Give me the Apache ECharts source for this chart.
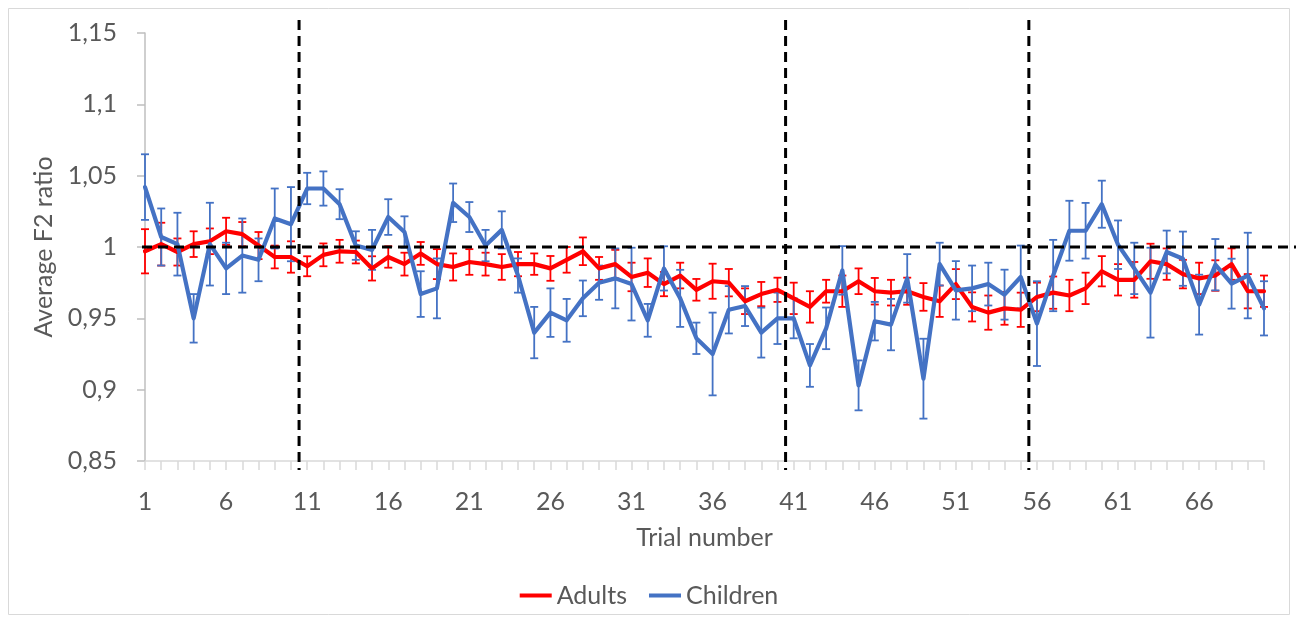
<!DOCTYPE html>
<html><head><meta charset="utf-8">
<script src="https://cdn.jsdelivr.net/npm/echarts@6/dist/echarts.min.js"></script>
<style>html,body{margin:0;padding:0;background:#fff;} #c{width:1298px;height:622px;}</style>
</head><body><div id="c"></div>
<script>
const trials = ['1','2','3','4','5','6','7','8','9','10','11','12','13','14','15','16','17','18','19','20',
'21','22','23','24','25','26','27','28','29','30','31','32','33','34','35','36','37','38','39','40',
'41','42','43','44','45','46','47','48','49','50','51','52','53','54','55','56','57','58','59','60',
'61','62','63','64','65','66','67','68','69','70'];

const adultsMean = [0.997,1.002,0.9965,1.002,1.004,1.011,1.009,1.001,0.993,0.993,
0.9865,0.9945,0.997,0.9965,0.985,0.993,0.988,0.9955,0.988,0.986,
0.9895,0.988,0.986,0.988,0.988,0.985,0.991,0.997,0.985,0.988,
0.979,0.982,0.974,0.980,0.970,0.976,0.975,0.962,0.967,0.970,
0.964,0.958,0.969,0.969,0.976,0.969,0.968,0.969,0.965,0.962,
0.974,0.958,0.954,0.957,0.956,0.965,0.968,0.966,0.971,0.983,
0.977,0.977,0.990,0.988,0.981,0.978,0.980,0.988,0.969,0.969];

const adultsErr = [0.0155,0.015,0.0095,0.009,0.009,0.0095,0.0085,0.0095,0.008,0.011,
0.007,0.008,0.008,0.008,0.0085,0.0075,0.008,0.008,0.0105,0.0095,
0.009,0.008,0.009,0.0085,0.0075,0.0087,0.009,0.0097,0.008,0.01,
0.01,0.01,0.0085,0.009,0.0076,0.0123,0.0096,0.009,0.0085,0.0085,
0.011,0.011,0.008,0.011,0.009,0.0093,0.009,0.0095,0.0097,0.011,
0.0105,0.0102,0.012,0.0115,0.012,0.01,0.0113,0.011,0.011,0.0106,
0.011,0.0125,0.0123,0.011,0.01,0.011,0.0107,0.011,0.012,0.011];

const childrenMean = [1.042,1.007,1.002,0.950,1.002,0.985,0.994,0.991,1.020,1.016,
1.041,1.041,1.030,1.001,0.998,1.021,1.0105,0.967,0.971,1.031,
1.021,1.001,1.012,0.980,0.940,0.954,0.9486,0.964,0.975,0.978,
0.974,0.9486,0.985,0.964,0.936,0.925,0.956,0.9586,0.940,0.950,
0.950,0.917,0.943,0.9836,0.903,0.948,0.9456,0.978,0.9077,0.988,
0.9696,0.971,0.974,0.9666,0.979,0.9463,0.980,1.0114,1.0114,1.030,
1.0016,0.985,0.968,0.9965,0.9918,0.9596,0.9876,0.9743,0.980,0.957];

const childrenErr = [0.023,0.02,0.022,0.017,0.029,0.018,0.026,0.015,0.021,0.026,
0.011,0.012,0.0105,0.01,0.014,0.0125,0.011,0.016,0.021,0.0135,
0.0105,0.011,0.013,0.012,0.018,0.017,0.015,0.0125,0.012,0.021,
0.0255,0.0115,0.0155,0.02,0.011,0.029,0.0166,0.014,0.0175,0.018,
0.014,0.015,0.0146,0.017,0.0175,0.0135,0.018,0.017,0.028,0.015,
0.0205,0.016,0.015,0.0175,0.022,0.0297,0.025,0.021,0.0195,0.0165,
0.017,0.018,0.0315,0.015,0.019,0.021,0.018,0.0175,0.03,0.019];

const phaseBoundaries = [10.5, 40.5, 55.5];   // between trials
const referenceRatio = 1;
const yTicks = {min:0.85, max:1.15, interval:0.05};

const RED = '#FF0000', BLUE = '#4472C4', TXT = '#595959', FONT = 'Lato', FS = 25;

function errSeries(name, means, errs, color){
  return {
    type:'custom', name:name, silent:true, z:3,
    data: means.map((m,i)=>[i, m-errs[i], m+errs[i]]),
    encode:{x:0, y:[1,2]},
    renderItem:function(params, api){
      const x = api.value(0);
      const lo = api.coord([x, api.value(1)]);
      const hi = api.coord([x, api.value(2)]);
      const w = 4;
      const st = {stroke:color, lineWidth:1.8};
      return {type:'group', children:[
        {type:'line', shape:{x1:lo[0],y1:lo[1],x2:hi[0],y2:hi[1]}, style:st},
        {type:'line', shape:{x1:lo[0]-w,y1:lo[1],x2:lo[0]+w,y2:lo[1]}, style:st},
        {type:'line', shape:{x1:hi[0]-w,y1:hi[1],x2:hi[0]+w,y2:hi[1]}, style:st}
      ]};
    }
  };
}

const chart = echarts.init(document.getElementById('c'), null, {renderer:'canvas'});
const option = {
  animation:false,
  backgroundColor:'#fff',
  textStyle:{fontFamily:FONT},
  grid:{left:145, right:34, top:33, bottom:161, containLabel:false},
  legend:{
    data:['Adults','Children'], left:'center', top:583, padding:0,
    icon:'rect', itemWidth:32, itemHeight:4, itemGap:22,
    textStyle:{color:TXT, fontSize:FS, fontFamily:FONT}
  },
  xAxis:[{
    type:'category', data:trials, boundaryGap:false,
    name:'Trial number', nameLocation:'middle', nameGap:64,
    nameTextStyle:{color:TXT, fontSize:FS, fontFamily:FONT},
    axisLine:{lineStyle:{color:'#d9d9d9', width:1.5}},
    axisTick:{show:true, interval:0, length:9, lineStyle:{color:'#d9d9d9', width:1.5}},
    axisLabel:{interval:4, color:TXT, fontSize:FS, fontFamily:FONT, margin:28},
    splitLine:{show:false}
  },{
    type:'value', min:1, max:70, show:false
  }],
  yAxis:{
    type:'value', min:yTicks.min, max:yTicks.max, interval:yTicks.interval,
    name:'Average F2 ratio', nameLocation:'middle', nameGap:85,
    nameTextStyle:{color:TXT, fontSize:FS, fontFamily:FONT},
    axisLine:{show:true, lineStyle:{color:'#bfbfbf', width:1.5}},
    axisTick:{show:true, length:8, lineStyle:{color:'#bfbfbf', width:1.5}},
    axisLabel:{color:TXT, fontSize:FS, fontFamily:FONT, margin:28,
      formatter:function(v){ return String(+v.toFixed(2)).replace('.', ','); }},
    splitLine:{show:false}
  },
  series:[
    errSeries('Adults err', adultsMean, adultsErr, RED),
    {type:'line', name:'Adults', data:adultsMean, color:RED, showSymbol:false, z:4,
      lineStyle:{color:RED, width:4.2, join:'round', cap:'round'}},
    errSeries('Children err', childrenMean, childrenErr, BLUE),
    {type:'line', name:'Children', data:childrenMean, color:BLUE, showSymbol:false, z:5,
      lineStyle:{color:BLUE, width:4.2, join:'round', cap:'round'}}
  ]
};
chart.setOption(option);

// dashed reference lines, positioned through the axes' scales
const yRef = chart.convertToPixel({yAxisIndex:0}, referenceRatio);
const xStart = chart.convertToPixel({xAxisIndex:1}, 1);
const yTop = chart.convertToPixel({yAxisIndex:0}, yTicks.max);
const yBot = chart.convertToPixel({yAxisIndex:0}, yTicks.min);
const dash = {stroke:'#000', lineWidth:3, lineDash:[10,6]};
const graphics = [
  {type:'rect', shape:{x:8.5, y:8.5, width:1281, height:606}, style:{fill:null, stroke:'#d9d9d9', lineWidth:1}, z:-1, silent:true},
  {type:'line', shape:{x1:xStart-3, y1:yRef, x2:1296, y2:yRef}, style:dash, z:100, silent:true}
];
phaseBoundaries.forEach(b=>{
  const px = chart.convertToPixel({xAxisIndex:1}, b);
  graphics.push({type:'line', shape:{x1:px, y1:yTop-13, x2:px, y2:yBot+9}, style:dash, z:100, silent:true});
});
chart.setOption({graphic:graphics});
</script>
</body></html>
